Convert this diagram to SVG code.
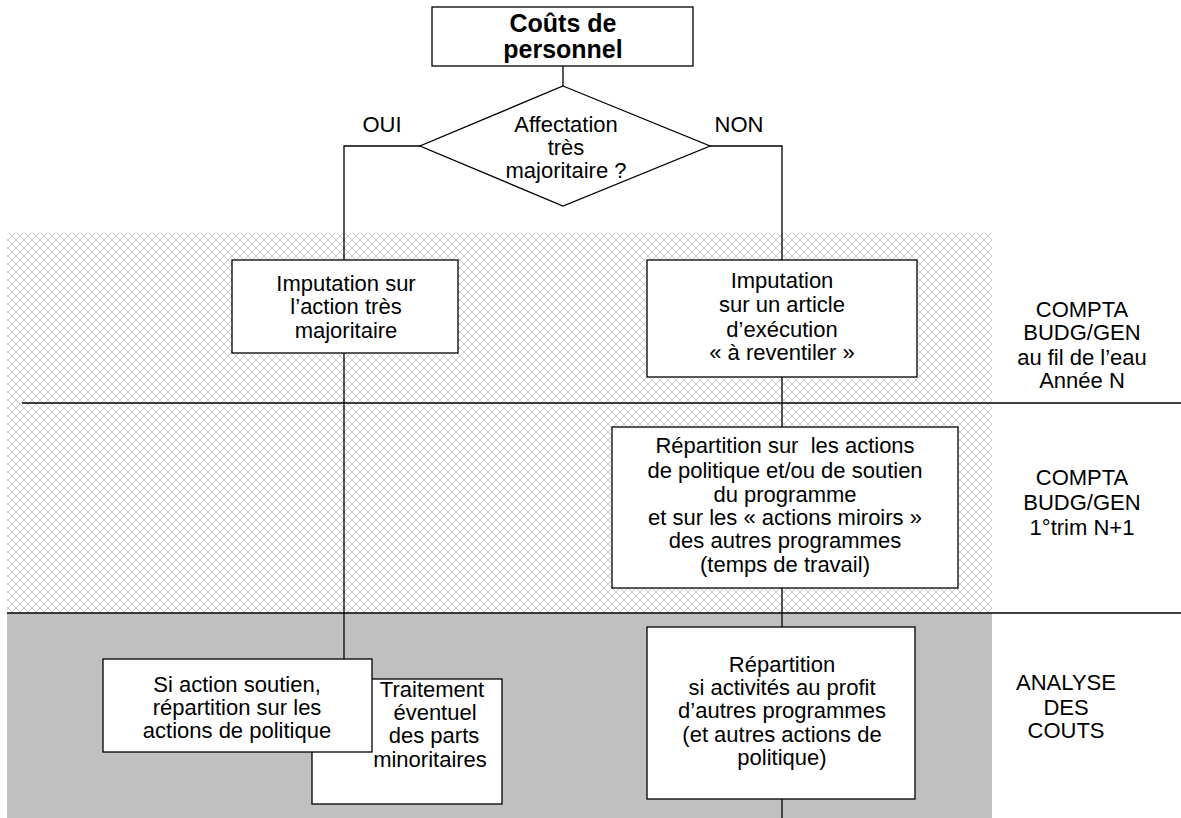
<svg xmlns="http://www.w3.org/2000/svg" width="1181" height="818" viewBox="0 0 1181 818">
  <defs>
    <!-- light diamond mesh used for the two accounting bands -->
    <pattern id="mesh" width="8" height="8" patternUnits="userSpaceOnUse">
      <rect width="8" height="8" fill="#ffffff"/>
      <path d="M0,0 L8,8 M8,0 L0,8" stroke="#c4c4c4" stroke-width="0.9" fill="none"/>
    </pattern>
  </defs>
  <style>
    text { font-family: "Liberation Sans", Arial, sans-serif; font-size: 22px; fill: #000; text-anchor: middle; white-space: pre; }
    .title { font-weight: bold; font-size: 25px; }
    .box { fill: #ffffff; stroke: #000; stroke-width: 1.3; }
    .wire { fill: none; stroke: #000; stroke-width: 1.3; }
    .sep { stroke: #000; stroke-width: 1.5; }
  </style>

  <!-- background bands -->
  <g id="bands">
    <rect x="7" y="233" width="985" height="380" fill="url(#mesh)"/>
    <rect x="7" y="613" width="985" height="205" fill="#c0c0c0"/>
    <line class="sep" x1="22" y1="403" x2="1181" y2="403"/>
    <line class="sep" x1="7" y1="613" x2="1181" y2="613"/>
  </g>

  <!-- connectors -->
  <g id="connectors">
    <line class="wire" x1="563" y1="66" x2="563" y2="86"/>
    <polyline class="wire" points="420,146 344,146 344,260"/>
    <polyline class="wire" points="710,146 782,146 782,260"/>
    <line class="wire" x1="344" y1="353" x2="344" y2="659"/>
    <line class="wire" x1="782" y1="377" x2="782" y2="427"/>
    <line class="wire" x1="782" y1="588" x2="782" y2="627"/>
    <line class="wire" x1="782" y1="799" x2="782" y2="818"/>
  </g>

  <g id="couts">
    <rect class="box" x="432" y="7" width="261" height="59"/>
    <text class="title" x="563" y="32">Coûts de</text>
    <text class="title" x="563" y="58">personnel</text>
  </g>

  <g id="decision">
    <polygon class="box" points="563,86 710,146 563,206 420,146"/>
    <text x="566" y="132">Affectation</text>
    <text x="566" y="155">très</text>
    <text x="566" y="178">majoritaire ?</text>
  </g>

  <g id="labels-branches">
    <text x="382" y="132">OUI</text>
    <text x="739" y="132">NON</text>
  </g>

  <g id="imputation-majoritaire">
    <rect class="box" x="232" y="260" width="226" height="93"/>
    <text x="346" y="291">Imputation sur</text>
    <text x="346" y="314">l’action très</text>
    <text x="346" y="338">majoritaire</text>
  </g>

  <g id="imputation-article">
    <rect class="box" x="647" y="260" width="270" height="117"/>
    <text x="782" y="288">Imputation</text>
    <text x="782" y="312">sur un article</text>
    <text x="782" y="337">d’exécution</text>
    <text x="782" y="360">« à reventiler »</text>
  </g>

  <g id="repartition-actions">
    <rect class="box" x="612" y="427" width="346" height="161"/>
    <text x="785" y="453">Répartition sur  les actions</text>
    <text x="785" y="478">de politique et/ou de soutien</text>
    <text x="785" y="502">du programme</text>
    <text x="785" y="525">et sur les « actions miroirs »</text>
    <text x="785" y="548">des autres programmes</text>
    <text x="785" y="572">(temps de travail)</text>
  </g>

  <g id="traitement">
    <rect class="box" x="312" y="679" width="190" height="125"/>
    <text x="432" y="697">Traitement</text>
    <text x="435" y="720">éventuel</text>
    <text x="434" y="743">des parts</text>
    <text x="430" y="767">minoritaires</text>
  </g>

  <g id="action-soutien">
    <rect class="box" x="103" y="659" width="269" height="93"/>
    <text x="237" y="692">Si action soutien,</text>
    <text x="237" y="715">répartition sur les</text>
    <text x="237" y="738">actions de politique</text>
  </g>

  <g id="repartition-programmes">
    <rect class="box" x="647" y="627" width="268" height="172"/>
    <text x="782" y="672">Répartition</text>
    <text x="782" y="695">si activités au profit</text>
    <text x="782" y="718">d’autres programmes</text>
    <text x="782" y="742">(et autres actions de</text>
    <text x="782" y="765">politique)</text>
  </g>

  <g id="phase-labels">
    <text x="1082" y="317">COMPTA</text>
    <text x="1082" y="340">BUDG/GEN</text>
    <text x="1082" y="365">au fil de l’eau</text>
    <text x="1082" y="388">Année N</text>

    <text x="1082" y="485">COMPTA</text>
    <text x="1082" y="510">BUDG/GEN</text>
    <text x="1082" y="535">1°trim N+1</text>

    <text x="1066" y="690">ANALYSE</text>
    <text x="1066" y="715">DES</text>
    <text x="1066" y="738">COUTS</text>
  </g>
</svg>
